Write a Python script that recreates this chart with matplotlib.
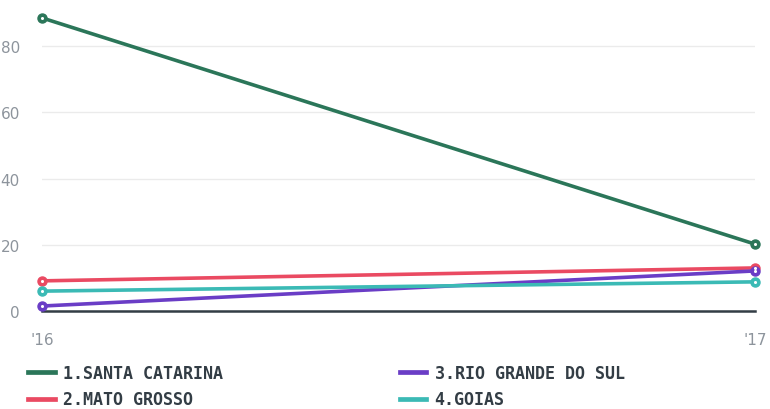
import matplotlib.pyplot as plt
from matplotlib.lines import Line2D

years = [2016, 2017]
year_labels = ["'16", "'17"]
series_names = ['1.SANTA CATARINA', '2.MATO GROSSO', '3.RIO GRANDE DO SUL', '4.GOIAS']
santa_catarina = [88.5, 20.2]
mato_grosso = [9.1, 13.0]
rio_grande = [1.5, 12.1]
goias = [6.0, 8.8]
colors = ['#2b7659', '#ea4a62', '#6a3dc6', '#3bbab5']

plt.rcParams['font.family'] = ['DejaVu Sans Mono']

fig = plt.figure(figsize=(7.7, 4.1), dpi=100)
ax = fig.add_axes([42 / 770, 1 - 312 / 410, (755 - 42) / 770, 308 / 410])

all_series = [santa_catarina, mato_grosso, rio_grande, goias]
handles = []
for name, vals, c in zip(series_names, all_series, colors):
    ax.plot(years, vals, color=c, lw=2.6, marker='o', ms=6.5, mfc=c, mec=c,
            clip_on=False, zorder=3, solid_capstyle='round')
    ax.plot(years, vals, ls='none', marker='o', ms=1.2, mfc='white', mec='white',
            clip_on=False, zorder=4)
    handles.append(Line2D([], [], color=c, lw=3.4, label=name))

ax.axhline(0, color='#333d45', lw=1.8, zorder=2, clip_on=False)
ax.set_xlim(2016, 2017)
ax.set_ylim(0, 93)
ax.set_yticks([0, 20, 40, 60, 80])
ax.set_xticks(years)
ax.set_xticklabels(year_labels)
ax.grid(axis='y', color='#ebebeb', lw=1)
ax.set_axisbelow(True)
for s in ax.spines.values():
    s.set_visible(False)
ax.tick_params(length=0, labelsize=11, labelcolor='#8d949c')
ax.tick_params(axis='y', pad=16)
ax.tick_params(axis='x', pad=15)
for lab in ax.get_xticklabels():
    lab.set_fontfamily('DejaVu Sans')
for lab in ax.get_yticklabels():
    lab.set_fontfamily('DejaVu Sans')

leg = fig.legend(handles=handles, loc='upper left', bbox_to_anchor=(28 / 770, 1 - 365 / 410),
                 ncol=2, frameon=False, handlelength=1.6, handletextpad=0.5,
                 columnspacing=10.6, labelspacing=0.5, borderpad=0, borderaxespad=0,
                 prop={'family': 'DejaVu Sans Mono', 'weight': 'bold', 'size': 12})
for t in leg.get_texts():
    t.set_color('#333d45')

fig.savefig('out.png', dpi=100)
